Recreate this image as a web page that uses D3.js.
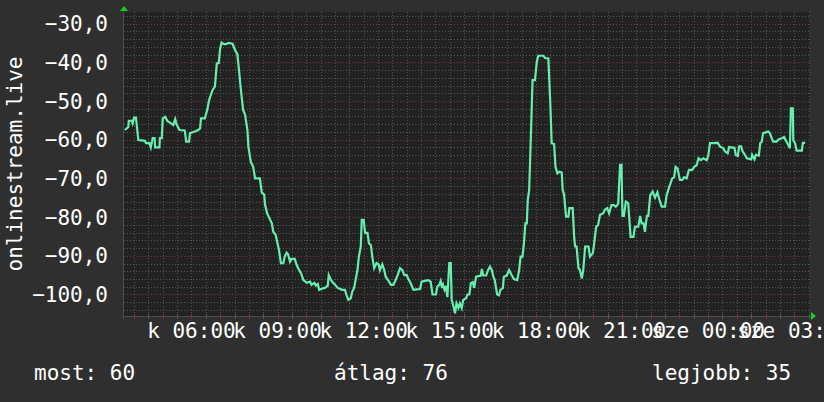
<!DOCTYPE html>
<html><head><meta charset="utf-8">
<script src="https://cdn.jsdelivr.net/npm/d3@7"></script>
<style>html,body{margin:0;padding:0;background:#2f2f2f;overflow:hidden}</style>
</head><body><svg id="c" width="824" height="402"></svg>
<script>
// time of each sample in minutes since 00:00 of the first day (Tuesday)
const sampleMinutes = [
221,228,229,235,237,240,244,249,263,265,
272,275,279,283,284,293,294,298,300,305,
310,315,322,326,329,335,346,349,355,357,
367,374,378,380,388,393,397,404,409,413,
417,420,423,428,432,437,446,451,456,460,
463,468,472,477,479,484,489,493,503,507,
512,514,518,523,528,531,536,540,543,547,
552,555,559,562,566,569,576,580,583,589,
594,601,608,611,617,620,624,627,632,639,
645,647,652,656,660,666,670,675,681,684,
688,693,696,700,703,707,710,714,716,720,
723,728,731,735,738,742,747,751,754,759,
763,766,771,777,782,785,791,796,801,805,
810,813,819,824,831,838,841,848,855,860,
864,871,874,878,881,884,886,889,892,895,
899,902,904,907,911,914,918,921,925,928,
934,937,941,944,948,951,955,965,967,970,
976,980,984,988,991,994,999,1003,1006,1011,
1013,1019,1024,1029,1034,1041,1045,1048,1052,1055,
1058,1061,1063,1066,1070,1073,1078,1082,1085,1096,
1099,1106,1110,1113,1118,1121,1125,1129,1134,1136,
1139,1143,1148,1150,1157,1160,1162,1165,1169,1172,
1176,1179,1183,1190,1193,1199,1201,1206,1210,1214,
1221,1224,1229,1233,1238,1243,1247,1252,1256,1259,
1261,1264,1268,1273,1278,1284,1287,1294,1298,1301,
1305,1308,1312,1315,1319,1324,1329,1334,1338,1343,
1350,1353,1359,1365,1369,1372,1376,1381,1386,1390,
1395,1400,1407,1411,1416,1420,1425,1430,1437,1440,
1444,1454,1460,1465,1472,1475,1481,1484,1495,1498,
1502,1505,1509,1512,1516,1521,1530,1532,1537,1540,
1546,1549,1552,1555,1566,1569,1573,1576,1583,1588,
1594,1599,1602,1606,1611,1613,1617,1618,1622,1625,
1636,1638,1643
];
// signal level (dBm) of each sample
const sampleValues = [
-57.5,-56.7,-55.1,-55.1,-55.8,-54.3,-54.3,-60.1,-60.3,-60.9,
-60.9,-62,-59.6,-59.6,-62,-62,-59.6,-59.6,-54.5,-54.1,
-55.2,-55.6,-56.2,-54.7,-56.1,-57.5,-57.6,-60.5,-60.5,-58.3,
-57.9,-57.5,-57.1,-54.5,-54.5,-52.3,-49.7,-47.2,-46.3,-40.3,
-40.2,-36.4,-34.9,-35.3,-35.3,-35,-35.2,-36.8,-37.9,-42.8,
-46.7,-52.3,-53.5,-57.5,-61.8,-65.7,-67,-70,-70,-73.7,
-74.2,-76.9,-79,-80.3,-81.6,-83.8,-84.6,-86.8,-88.5,-91.9,
-91.9,-90.2,-89.2,-89.6,-91.5,-90.8,-90.8,-92.4,-93.2,-94.5,
-96.3,-97,-96.7,-97.5,-97,-97.7,-97.3,-98.8,-98.5,-98.3,
-97.7,-95,-96.3,-97,-97.5,-98.3,-98.5,-98.8,-98.8,-100.1,
-101.4,-101,-99.3,-98.3,-96.3,-93.7,-90.2,-87.6,-80.7,-80.7,
-84.1,-84.1,-86.8,-87.2,-90.2,-93.2,-91.9,-92.2,-93.7,-92.2,
-93.7,-95.4,-96.3,-97.5,-97.5,-96.8,-95,-93.2,-93.7,-95,
-95,-95.9,-97.3,-98.8,-98.7,-98.6,-96.7,-96.5,-96.3,-96.7,
-100,-100,-98,-97.5,-96.5,-98.3,-97.5,-98.8,-97.8,-100.7,
-91.9,-91.9,-101.4,-102.7,-104.9,-102.3,-103.5,-102.3,-103.5,-101.4,
-101,-100,-100,-97.1,-96.8,-98.3,-95.4,-95.1,-93.4,-95.1,
-95.1,-93.7,-92.8,-93.7,-95.4,-96.3,-100,-100.2,-98.8,-98.3,
-95.4,-95.1,-93.7,-94.9,-96,-96.3,-93.7,-90.2,-90.2,-86.8,
-81.6,-81.6,-75.6,-73,-57.1,-44.6,-44.6,-39.8,-38.3,-38.3,
-38.9,-39,-50.2,-60.9,-61.1,-67,-68.7,-68.3,-68.5,-73,
-74.3,-79.9,-79.9,-77.7,-77.7,-85.1,-87.6,-87.6,-93.2,-93.6,
-95.9,-93.7,-87.6,-87.6,-90.2,-89.3,-87.6,-82.5,-82.1,-79.4,
-79,-78.1,-77.7,-79,-76.9,-76.9,-77.3,-76.6,-66.5,-66.5,
-79.7,-79.7,-76,-76.4,-85.1,-85.1,-82.5,-82.5,-79.7,-81.6,
-81.6,-83.8,-79.7,-79.7,-74.3,-73.4,-75,-73.6,-75.4,-77.3,
-77.3,-74.5,-72.1,-70,-69.7,-67,-67.4,-70.4,-70.4,-69.7,
-70,-67.8,-67.8,-67,-66.6,-64.8,-65.3,-64.8,-65.3,-64.3,
-60.9,-60.9,-60.8,-61.8,-62.2,-63,-63.5,-61.9,-62.1,-64,
-64.2,-61.7,-61.7,-63,-63.7,-64.8,-65.1,-63.9,-65.1,-63.9,
-64.1,-60.9,-60.6,-58.3,-57.9,-58.3,-59.6,-60.5,-60.5,-59.9,
-59.6,-59.3,-60.1,-61,-62.2,-51.9,-51.9,-60.1,-61,-62.8,
-62.8,-60.8,-60.8
];
const yTickValues = [-100,-90,-80,-70,-60,-50,-40,-30];
const xTickMinutes = [360,540,720,900,1080,1260,1440,1620];
const xTickLabels = ["k 06:00","k 09:00","k 12:00","k 15:00","k 18:00","k 21:00","sze 00:00","sze 03:00"];
const yAxisTitle = "onlinestream.live";
const legendLabels = ["most:","átlag:","legjobb:"];
const legendValues = ["60","76","35"];

const L=124,R=810,T=12,B=316;
const FONT = "'DejaVu Sans Mono', monospace";
const svg = d3.select("#c");
svg.append("rect").attr("width",824).attr("height",402).attr("fill","#2f2f2f");
svg.append("rect").attr("x",L).attr("y",T).attr("width",R-L).attr("height",B-T).attr("fill","#222222");

const x = d3.scaleLinear().domain([219,1653]).range([L,R]);
const y = d3.scaleLinear().domain([-105.56,-27.0]).range([B,T]);

const g = svg.append("g").attr("shape-rendering","crispEdges");
// minor vertical grid every 30 min
g.selectAll("line.vx").data(d3.range(240,1653,30)).join("line")
  .attr("x1",d=>Math.round(x(d))+0.5).attr("x2",d=>Math.round(x(d))+0.5)
  .attr("y1",T).attr("y2",B).attr("stroke","#555555").attr("stroke-dasharray","1,2");
// horizontal grid
const hv = d3.range(-104,-27,2);
g.selectAll("line.hy").data(hv).join("line")
  .attr("x1",L).attr("x2",R)
  .attr("y1",d=>Math.round(y(d))+0.5).attr("y2",d=>Math.round(y(d))+0.5)
  .attr("stroke",d=> d%10===0 ? "#803232" : "#555555").attr("stroke-dasharray","1,2");

// axes lines
g.append("line").attr("x1",L-1).attr("x2",R+2).attr("y1",B+0.5).attr("y2",B+0.5).attr("stroke","#4a4a4a");
g.append("line").attr("x1",L-0.5).attr("x2",L-0.5).attr("y1",T-2).attr("y2",B+3).attr("stroke","#4a4a4a");
// x ticks
g.selectAll("line.tx").data(d3.range(240,1653,30)).join("line")
  .attr("x1",d=>Math.round(x(d))+0.5).attr("x2",d=>Math.round(x(d))+0.5)
  .attr("y1",B-2).attr("y2",B+3)
  .attr("stroke",d=> d%60===0 ? "#7a3333" : "#5a5a5a");
// arrows
svg.append("path").attr("d",`M${L-4},${T-1}L${L+4},${T-1}L${L},${T-6}Z`).attr("fill","#1fcc1f");
svg.append("path").attr("d",`M${R+1},${B-4}L${R+1},${B+4}L${R+6},${B}Z`).attr("fill","#1fcc1f");

// data line
const data = d3.zip(sampleMinutes, sampleValues);
svg.append("path").datum(data)
  .attr("fill","none").attr("stroke","#66eeb0").attr("stroke-width",2.2)
  .attr("stroke-linejoin","miter")
  .attr("d", d3.line().x(d=>x(d[0])).y(d=>y(d[1])));

// y labels
const fmt = v => d3.format(".1f")(v).replace(".",",");
svg.selectAll("text.yl").data(yTickValues).join("text")
  .attr("x",108).attr("y",d=>y(d)+7.5).attr("text-anchor","end")
  .attr("fill","#ffffff").attr("font-family",FONT).attr("font-size",21)
  .text(fmt);
// x labels
svg.selectAll("text.xl").data(xTickMinutes).join("text")
  .attr("x",d=>x(d)).attr("y",338).attr("text-anchor","middle")
  .attr("fill","#ffffff").attr("font-family",FONT).attr("font-size",21)
  .text((d,i)=>xTickLabels[i]);
// y title
svg.append("text").attr("transform","translate(22,164) rotate(-90)")
  .attr("text-anchor","middle").attr("fill","#ffffff")
  .attr("font-family",FONT).attr("font-size",21).text(yAxisTitle);
// legend
const legendX = [34,334,652];
svg.selectAll("text.lg").data(legendLabels).join("text")
  .attr("x",(d,i)=>legendX[i]).attr("y",380)
  .attr("fill","#ffffff").attr("font-family",FONT).attr("font-size",21)
  .attr("xml:space","preserve")
  .text((d,i)=>d+" "+legendValues[i]);
</script>
</body></html>
